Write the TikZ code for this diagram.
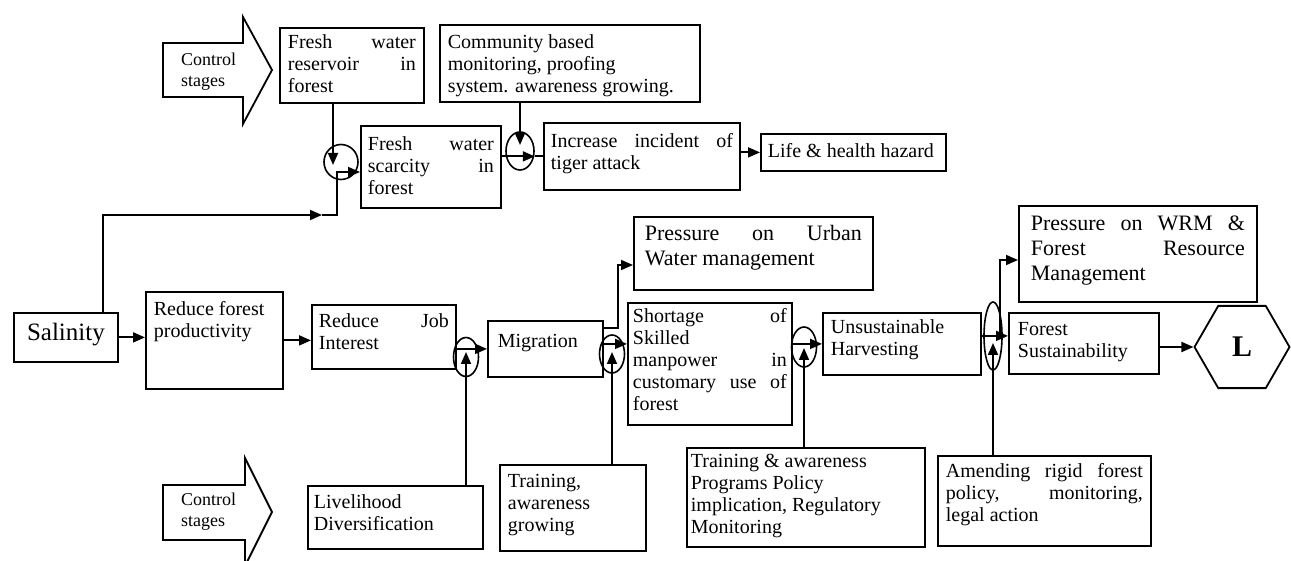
\documentclass[tikz,border=0pt]{standalone}
\usepackage{fontspec}
\setmainfont{Liberation Serif}
\usetikzlibrary{arrows.meta,shapes.geometric}
\hyphenpenalty=10000
\exhyphenpenalty=10000
\tolerance=10000
\hbadness=10000
\hfuzz=20pt
\newcommand\jl[1]{\makebox[\linewidth][s]{#1}}
\newcommand\mybox[9][]{%
  \pgfmathsetmacro\mbh{#6-#4}%
  \pgfmathsetmacro\mtw{#5-#3-2*#7}%
  \node[bx,#1,anchor=north west,inner xsep=#7pt,inner ysep=0pt] (#2) at (#3,#4)
    {\parbox[c][\mbh pt][t]{\mtw pt}{\rule{0pt}{#8pt}#9}};%
}
\begin{document}
\begin{tikzpicture}[x=1pt,y=-1pt,
  bx/.style={draw,line width=1.8pt,rectangle,font=\fontsize{20}{22}\selectfont},
  big/.style={font=\fontsize{22}{25}\selectfont},
  jn/.style={ellipse,draw,line width=1.6pt,inner sep=0pt},
  wire/.style={line width=1.8pt},
  arr/.style={line width=1.8pt,-{Triangle[length=12pt,width=10pt]}},
  ctrl/.style={line width=1.8pt},
  ctxt/.style={font=\fontsize{18}{21}\selectfont,align=left,inner sep=0pt,anchor=west}]
\useasboundingbox (0,0) rectangle (1291,561);

% control stage arrows
\draw[ctrl] (163,43) -- (243,43) -- (243,17) -- (272,70) -- (243,124) -- (243,97) -- (163,97) -- cycle;
\node[ctxt] (ct1) at (181,72) {Control\\stages};
\draw[ctrl] (163,485) -- (245,485) -- (245,458) -- (272,512) -- (245,566) -- (245,540) -- (163,540) -- cycle;
\node[ctxt] (ct2) at (181,512) {Control\\stages};

% boxes
\mybox{res}{279}{27}{423}{102}{8}{21}{\jl{Fresh water}\\\jl{reservoir in}\\forest}
\mybox{com}{439}{24}{699}{101}{8}{24}{Community based\\monitoring, proofing\\system. awareness growing.}
\mybox{scar}{360}{125}{500}{207}{7}{25}{\jl{Fresh water}\\\jl{scarcity in}\\forest}
\mybox{inc}{543}{122}{739}{189}{7}{25}{\jl{Increase incident of}\\tiger attack}
\mybox{life}{760}{133}{945}{170}{7}{24}{Life \& health hazard}
\mybox[font=\fontsize{25}{28}\selectfont]{sal}{13}{312}{117}{361}{4}{28}{\centering Salinity}
\mybox{rfp}{145}{291}{282}{388}{8}{24}{Reduce forest\\productivity}
\mybox{job}{311}{304}{455}{368}{7}{23}{\jl{Reduce Job}\\Interest}
\mybox{mig}{487}{320}{602}{376}{10}{27}{Migration}
\mybox[big]{urb}{633}{216}{872}{289}{11}{24}{\jl{Pressure on Urban}\\Water management}
\mybox{short}{627}{302}{791}{424}{5}{20}{\jl{Shortage of}\\Skilled\\\jl{manpower in}\\\jl{customary use of}\\forest}
\mybox{uns}{822}{312}{980}{374}{8}{21}{Unsustainable\\Harvesting}
\mybox[big]{wrm}{1018}{205}{1256}{301}{12}{25}{\jl{Pressure on WRM \&}\\\jl{Forest Resource}\\Management}
\mybox{fs}{1008}{312}{1158}{373}{9}{23}{Forest\\Sustainability}
\mybox{liv}{307}{485}{482}{548}{6}{23}{Livelihood\\Diversification}
\mybox{tr}{499}{464}{645}{550}{8}{23}{Training,\\awareness\\growing}
\mybox{tra}{686}{447}{924}{546}{4}{20}{Training \& awareness\\Programs Policy\\implication, Regulatory\\Monitoring}
\mybox{am}{937}{455}{1150}{545}{8}{22}{\jl{Amending rigid forest}\\\jl{policy, monitoring,}\\legal action}

\node[regular polygon,regular polygon sides=6,draw,line width=1.8pt,minimum size=95pt,inner sep=0pt,
      font=\bfseries\fontsize{30}{30}\selectfont] (L) at (1242,347) {L};

% junctions
\node[jn,minimum width=34pt,minimum height=35pt] (c1) at (341,162) {};
\node[jn,minimum width=28pt,minimum height=38pt] (c2) at (520,151) {};
\node[jn,minimum width=25pt,minimum height=39pt] (c3) at (466,357) {};
\node[jn,minimum width=25pt,minimum height=38pt] (c4) at (612,354) {};
\node[jn,minimum width=25pt,minimum height=40pt] (c5) at (804,347) {};
\node[jn,minimum width=18pt,minimum height=68pt] (c6) at (993,336) {};

% connectors
\coordinate (j1) at (322,215);
\coordinate (k1) at (337,172);
\draw[arr] ([xshift=37pt]sal.north) |- (j1);
\draw[arr] (j1) -| (k1) -- (k1 -| scar.west);
\draw[arr] ([xshift=-8pt]c1.center |- res.south) -- ([xshift=-8pt,yshift=-3pt]c1.center);
\draw[arr] (c2 |- com.south) -- ([yshift=6pt]c2.center);
\draw[arr] (scar.east |- inc.west) -- (c2.east |- inc.west);
\draw[wire] (c2.east |- inc.west) -- (inc.west);
\draw[arr] (inc.east |- life.west) -- (life.west);
\draw[arr] (sal.east) -- (sal.east -| rfp.west);
\draw[arr] (rfp.east) -- (rfp.east -| job.west);
\draw[arr] (job.east |- mig.west) -- (mig.west);
\draw[arr] (c3 |- liv.north) -- ([yshift=5pt]c3.center);
\draw[arr] ([yshift=5pt]mig.east) -- ([yshift=5pt]mig.east -| short.west);
\draw[arr] (c4 |- tr.north) -- ([yshift=2pt]c4.center);
\coordinate (m1) at (618,265);
\draw[arr] ([yshift=21pt]mig.east) -| (m1) -- (m1 -| urb.west);
\draw[arr] (short.east |- uns.west) -- (uns.west);
\draw[arr] (c5 |- tra.north) -- ([yshift=-1pt]c5.center);
\draw[arr] ([yshift=8pt]uns.east) -- ([yshift=8pt]uns.east -| fs.west);
\draw[arr] (c6 |- am.north) -- ([yshift=-7pt]c6.center);
\coordinate (w1) at (1000,260);
\draw[arr] ([xshift=7pt]c6.center) |- (w1 -| wrm.west);
\draw[arr] (fs.east |- L.west) -- (L.west);
\end{tikzpicture}
\end{document}
